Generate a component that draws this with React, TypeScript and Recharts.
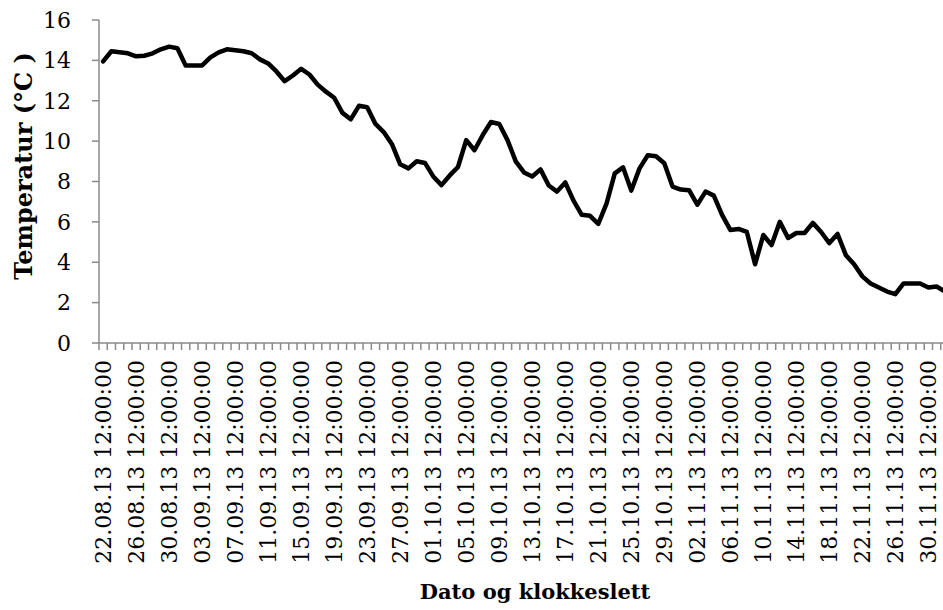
import React from 'react';
import { LineChart, Line, XAxis, YAxis, Label } from 'recharts';

// daily temperature, 22.08.13 onwards
const temperatures = [
  13.95, 14.45, 14.4, 14.35, 14.2, 14.23, 14.35, 14.55, 14.68, 14.6,
  13.75, 13.75, 13.75, 14.15, 14.4, 14.55, 14.5, 14.45, 14.35, 14.05,
  13.85, 13.45, 12.97, 13.25, 13.58, 13.3, 12.8, 12.45, 12.15, 11.4,
  11.08, 11.75, 11.68, 10.85, 10.45, 9.85, 8.85, 8.65, 9.0, 8.92,
  8.25, 7.82, 8.3, 8.72, 10.05, 9.55, 10.3, 10.95, 10.85, 10.05,
  9.0, 8.45, 8.25, 8.6, 7.8, 7.5, 7.95, 7.05, 6.35, 6.3,
  5.9, 6.9, 8.4, 8.7, 7.55, 8.65, 9.3, 9.25, 8.9, 7.75,
  7.6, 7.57, 6.85, 7.5, 7.3, 6.35, 5.6, 5.65, 5.5, 3.9,
  5.35, 4.85, 6.0, 5.2, 5.45, 5.45, 5.95, 5.5, 4.95, 5.4,
  4.35, 3.9, 3.3, 2.95, 2.75, 2.55, 2.42, 2.95, 2.95, 2.95,
  2.75, 2.8, 2.55,
];

// one label every 4th day
const tickLabels = [
  '22.08.13 12:00:00', '26.08.13 12:00:00', '30.08.13 12:00:00', '03.09.13 12:00:00',
  '07.09.13 12:00:00', '11.09.13 12:00:00', '15.09.13 12:00:00', '19.09.13 12:00:00',
  '23.09.13 12:00:00', '27.09.13 12:00:00', '01.10.13 12:00:00', '05.10.13 12:00:00',
  '09.10.13 12:00:00', '13.10.13 12:00:00', '17.10.13 12:00:00', '21.10.13 12:00:00',
  '25.10.13 12:00:00', '29.10.13 12:00:00', '02.11.13 12:00:00', '06.11.13 12:00:00',
  '10.11.13 12:00:00', '14.11.13 12:00:00', '18.11.13 12:00:00', '22.11.13 12:00:00',
  '26.11.13 12:00:00', '30.11.13 12:00:00',
];

const yTicks = [0, 2, 4, 6, 8, 10, 12, 14, 16];

const AXIS_GREY = '#8a8a8a';
const FONT = '"DejaVu Serif", serif';
const CHART_W = 949;
const CHART_H = 610;
const Y_AXIS_W = 99;
const BAND = (CHART_W - Y_AXIS_W) / temperatures.length;

const data = temperatures.map((t, i) => ({ i, t }));
// tick marks sit between the days, like Excel's "between tick marks"
const boundaries = Array.from({ length: temperatures.length + 1 }, (_, k) => k - 0.5);

const DateTick = (props: any) => {
  const { x, y, payload } = props;
  const day = payload.value + 0.5;
  const label = day % 4 === 0 ? tickLabels[day / 4] : undefined;
  return (
    <g>
      <line x1={x} x2={x} y1={y} y2={y + 7} stroke={AXIS_GREY} strokeWidth={1.5} />
      {label && (
        <text
          transform={`translate(${x + BAND / 2},${y + 17}) rotate(-90)`}
          textAnchor="end"
          dominantBaseline="central"
          fontFamily={FONT}
          fontSize={22}
          fill="#000"
        >
          {label}
        </text>
      )}
    </g>
  );
};

export default function App() {
  return (
    <div
      style={{
        position: 'absolute',
        left: 0,
        top: 0,
        width: 943,
        height: CHART_H,
        overflow: 'hidden',
        background: '#fff',
      }}
    >
      <LineChart width={CHART_W} height={CHART_H} data={data} margin={{ top: 20, right: 0, bottom: 0, left: 0 }}>
        <XAxis
          dataKey="i"
          type="number"
          domain={[-0.5, temperatures.length - 0.5]}
          ticks={boundaries}
          interval={0}
          tick={DateTick}
          tickLine={false}
          tickSize={0}
          tickMargin={0}
          axisLine={{ stroke: AXIS_GREY, strokeWidth: 1.5 }}
          height={267}
        >
          <Label
            content={() => (
              <text x={535} y={599} textAnchor="middle" fontFamily={FONT} fontWeight="bold" fontSize={21} fill="#000">
                Dato og klokkeslett
              </text>
            )}
          />
        </XAxis>
        <YAxis
          type="number"
          domain={[0, 16]}
          ticks={yTicks}
          interval={0}
          width={Y_AXIS_W}
          tickSize={7}
          tickMargin={21}
          tick={{ fontFamily: FONT, fontSize: 22, fill: '#000' }}
          tickLine={{ stroke: AXIS_GREY, strokeWidth: 1.5 }}
          axisLine={{ stroke: AXIS_GREY, strokeWidth: 1.5 }}
        >
          <Label
            content={() => (
              <text
                transform="translate(23,166) rotate(-90)"
                textAnchor="middle"
                dominantBaseline="central"
                fontFamily={FONT}
                fontWeight="bold"
                fontSize={24}
                fill="#000"
              >
                Temperatur (°C )
              </text>
            )}
          />
        </YAxis>
        <Line
          dataKey="t"
          type="linear"
          stroke="#000"
          strokeWidth={4.5}
          strokeLinejoin="round"
          strokeLinecap="round"
          dot={false}
          isAnimationActive={false}
        />
      </LineChart>
    </div>
  );
}
